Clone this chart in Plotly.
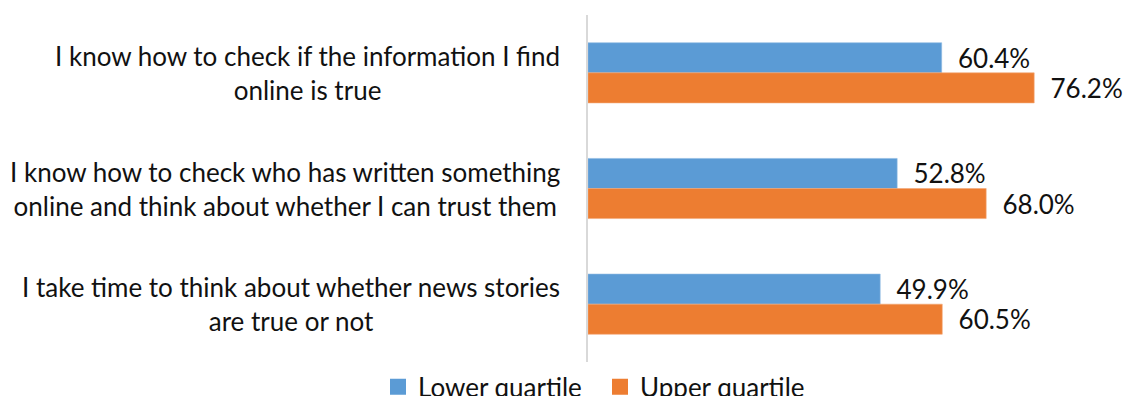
import plotly.graph_objects as go

statements = [
    "I know how to check if the information I find<br>online is true",
    "I know how to check who has written something<br>online and think about whether I can trust them",
    "I take time to think about whether news stories<br>are true or not",
]
cat_ids = ["s1", "s2", "s3"]
lower_quartile = [60.4, 52.8, 49.9]
upper_quartile = [76.2, 68.0, 60.5]

series = [
    ("Lower quartile", lower_quartile, "#5B9BD5", "#8fbbe3"),
    ("Upper quartile", upper_quartile, "#ED7D31", "#f3a877"),
]

FONT = "Lato"
FS = 26
TEXT_COLOR = "#111111"

fig = go.Figure()
for name, vals, color, edge in series:
    fig.add_trace(go.Bar(
        name=name, y=cat_ids, x=vals, orientation="h",
        marker=dict(color=color, line=dict(color=edge, width=0.6)),
        text=[f"{v:.1f}%" for v in vals], texttemplate="  %{text}",
        textposition="outside", cliponaxis=False, constraintext="none",
        textfont=dict(family=FONT, size=FS, color=TEXT_COLOR),
        showlegend=False,
    ))

# legend entries with larger square swatches
for name, vals, color, edge in series:
    fig.add_trace(go.Scatter(
        name=name, x=[None], y=[None], mode="markers",
        marker=dict(symbol="square", size=16, color=color),
        showlegend=True,
    ))

# category labels: centred lines, right-aligned block left of the axis
for cid, label in zip(cat_ids, statements):
    fig.add_annotation(
        x=0, xref="paper", y=cid, yref="y", xanchor="right", yanchor="middle",
        xshift=-26, text=label, showarrow=False, align="center",
        font=dict(family=FONT, size=FS, color=TEXT_COLOR),
    )

fig.update_layout(
    width=1123, height=396,
    margin=dict(l=588, r=8, t=15, b=34, autoexpand=False),
    paper_bgcolor="white", plot_bgcolor="white",
    barmode="group", bargap=0.48, bargroupgap=0,
    font=dict(family=FONT, size=FS, color=TEXT_COLOR),
    xaxis=dict(range=[0, 90], visible=False),
    yaxis=dict(autorange="reversed", showticklabels=False, showgrid=False,
               showline=True, linecolor="#D9D9D9", linewidth=2, ticks=""),
    legend=dict(orientation="h", xref="container", x=378 / 1123, xanchor="left",
                yref="container", y=0.023, yanchor="middle",
                font=dict(family=FONT, size=FS, color=TEXT_COLOR),
                itemwidth=30, traceorder="normal", itemsizing="trace",
                entrywidth=177, entrywidthmode="pixels"),
    showlegend=True,
)

fig.write_html("out.html")
